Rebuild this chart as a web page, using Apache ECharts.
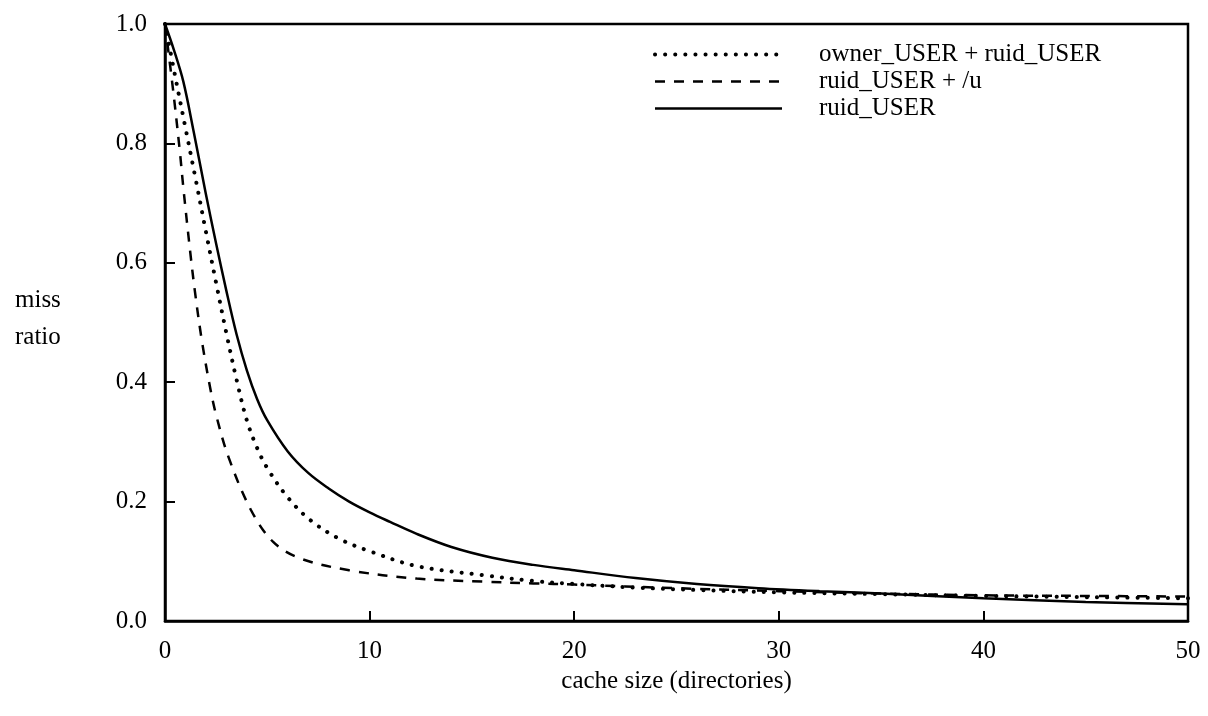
<!DOCTYPE html>
<html>
<head>
<meta charset="utf-8">
<script src="https://cdn.jsdelivr.net/npm/echarts@6/dist/echarts.min.js"></script>
<style>
html,body{margin:0;padding:0;background:#fff;}
#chart{width:1208px;height:716px;}
</style>
</head>
<body>
<div id="chart"></div>
<script>
// ---- data ----
var xTicks = [0, 10, 20, 30, 40, 50];
var yTicks = [0.0, 0.2, 0.4, 0.6, 0.8, 1.0];
var seriesNames = ['owner_USER + ruid_USER', 'ruid_USER + /u', 'ruid_USER'];

var ownerRuid = [
  [0, 1.0], [0.5, 0.912], [1.0, 0.826], [1.5, 0.74], [2.0, 0.652], [2.5, 0.566],
  [3.0, 0.482], [3.5, 0.404], [4.0, 0.336], [4.5, 0.29], [5.0, 0.256], [6.0, 0.207],
  [7.1, 0.169], [8.5, 0.138], [10.0, 0.117], [12.3, 0.092], [15.5, 0.077], [18.0, 0.067],
  [20.0, 0.062], [23.0, 0.056], [26.0, 0.052], [30.0, 0.048], [35.0, 0.045],
  [40.0, 0.042], [45.0, 0.040], [50.0, 0.038]
];
var ruidU = [
  [0, 1.0], [0.41, 0.885], [0.73, 0.785], [0.89, 0.728], [1.22, 0.622], [1.47, 0.55],
  [1.8, 0.47], [2.2, 0.392], [2.5, 0.345], [3.1, 0.275], [4.2, 0.186], [5.3, 0.132],
  [6.6, 0.105], [9.0, 0.085], [12.3, 0.071], [15.5, 0.066], [18.0, 0.063],
  [20.0, 0.061], [25.0, 0.055], [30.0, 0.050], [35.0, 0.046], [40.0, 0.043],
  [45.0, 0.042], [50.0, 0.041]
];
var ruid = [
  [0, 1.0], [0.45, 0.955], [0.9, 0.903], [1.4, 0.82], [2.0, 0.715], [2.5, 0.632],
  [3.0, 0.553], [3.5, 0.48], [4.0, 0.42], [4.5, 0.372], [5.0, 0.336], [6.0, 0.284],
  [7.0, 0.248], [8.0, 0.222], [9.0, 0.2], [10.0, 0.182], [11.0, 0.166], [12.3, 0.146],
  [14.0, 0.124], [16.0, 0.106], [18.0, 0.094], [20.0, 0.085], [23.0, 0.072],
  [26.0, 0.062], [29.0, 0.055], [32.0, 0.050], [35.0, 0.046], [40.0, 0.038],
  [45.0, 0.032], [50.0, 0.028]
];

var FONT = "'Liberation Serif', 'Times New Roman', serif";

var chart = echarts.init(document.getElementById('chart'), null, {renderer: 'canvas'});
var option = {
  backgroundColor: '#fff',
  animation: false,
  color: ['#000', '#000', '#000'],
  grid: {
    left: 165, right: 20, top: 24, bottom: 95,
    show: true, borderColor: '#000', borderWidth: 2.5, backgroundColor: 'transparent'
  },
  legend: {
    orient: 'vertical',
    left: 648, top: 37,
    itemWidth: 127, itemHeight: 14, itemGap: 2,
    itemStyle: {opacity: 0},
    textStyle: {fontFamily: FONT, fontSize: 25, color: '#000', padding: [0, 0, 0, 32], lineHeight: 24},
    data: [
      {name: seriesNames[0], lineStyle: {width: 4, type: [0.1, 10], cap: 'round', color: '#000'}},
      {name: seriesNames[1], lineStyle: {width: 2.5, type: [10, 9], color: '#000'}},
      {name: seriesNames[2], lineStyle: {width: 2.5, type: 'solid', color: '#000'}}
    ],
    selectedMode: false
  },
  xAxis: {
    type: 'value', min: xTicks[0], max: xTicks[xTicks.length - 1], interval: 10,
    axisLine: {show: true, lineStyle: {color: '#000', width: 2.5}},
    axisTick: {show: true, inside: true, length: 10, lineStyle: {color: '#000', width: 2}},
    axisLabel: {margin: 18, fontFamily: FONT, fontSize: 25, color: '#000'},
    splitLine: {show: false},
    name: 'cache size (directories)', nameLocation: 'middle', nameGap: 41,
    nameTextStyle: {fontFamily: FONT, fontSize: 25, color: '#000'}
  },
  yAxis: {
    type: 'value', min: yTicks[0], max: yTicks[yTicks.length - 1], interval: 0.2,
    axisLine: {show: true, lineStyle: {color: '#000', width: 2.5}},
    axisTick: {show: true, inside: true, length: 10, lineStyle: {color: '#000', width: 2}},
    axisLabel: {margin: 18, fontFamily: FONT, fontSize: 25, color: '#000',
      formatter: function (v) { return v.toFixed(1); }},
    splitLine: {show: false}
  },
  graphic: [
    {type: 'text', left: 15, top: 288, style: {text: 'miss', font: '25px ' + FONT, fill: '#000'}},
    {type: 'text', left: 15, top: 325, style: {text: 'ratio', font: '25px ' + FONT, fill: '#000'}}
  ],
  series: [
    {name: seriesNames[0], type: 'line', data: ownerRuid, smooth: 0.35, symbol: 'none',
     itemStyle: {color: '#000'},
     lineStyle: {color: '#000', width: 4, type: [0.1, 10], cap: 'round'}},
    {name: seriesNames[1], type: 'line', data: ruidU, smooth: 0.35, symbol: 'none',
     itemStyle: {color: '#000'},
     lineStyle: {color: '#000', width: 2.5, type: [10, 9]}},
    {name: seriesNames[2], type: 'line', data: ruid, smooth: 0.35, symbol: 'none',
     itemStyle: {color: '#000'},
     lineStyle: {color: '#000', width: 2.5, type: 'solid'}}
  ]
};
chart.setOption(option);
</script>
</body>
</html>
